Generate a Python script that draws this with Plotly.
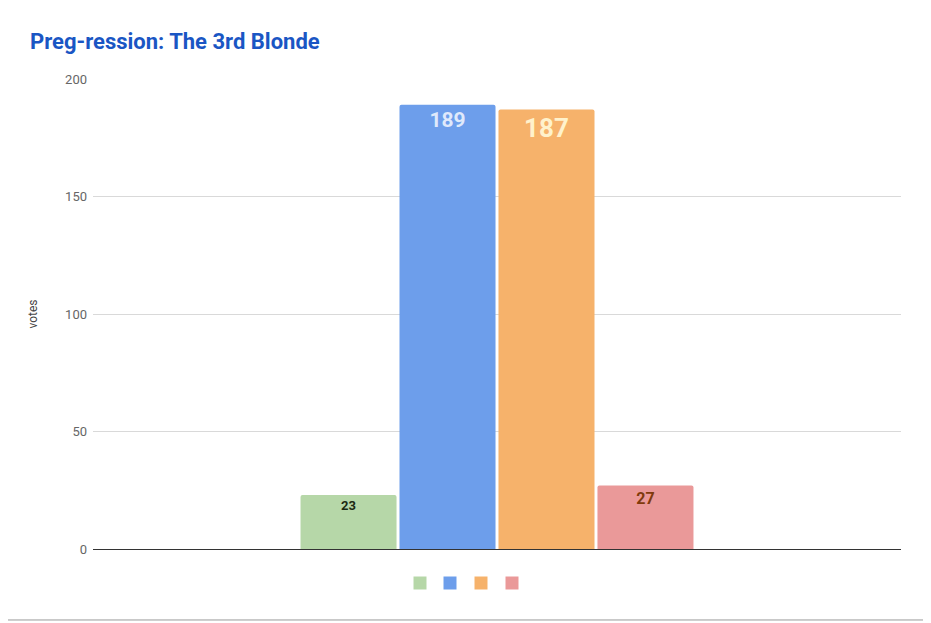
import plotly.graph_objects as go

# Données
CATEGORIE = ['']
NOMS = ['', '', '', '']
VOTES = [23, 189, 187, 27]
COULEURS = ['#b6d7a8', '#6d9eeb', '#f6b26b', '#ea9999']
COULEURS_TEXTE = ['#1c2a12', '#dfe9fb', '#fff2cc', '#7f3a0c']
TAILLES_TEXTE = [13, 21, 26, 16]

TITRE = "Preg-ression: The 3rd Blonde"

# la page a une marge de 8 px : on décale tout
L, R, T, B = 85, 30, 71, 74
W, H = 923, 615
PW, PH = W - L - R, H - T - B

fig = go.Figure()
for i in range(len(VOTES)):
    fig.add_trace(go.Bar(
        x=CATEGORIE, y=[VOTES[i]], name=NOMS[i],
        marker=dict(color=COULEURS[i], line=dict(width=0), cornerradius=2),
        text=[str(VOTES[i])], textposition='inside', insidetextanchor='end',
        textfont=dict(family='Roboto', size=TAILLES_TEXTE[i], color=COULEURS_TEXTE[i], weight='bold'),
        textangle=0, hoverinfo='y'
    ))

fig.update_layout(
    width=W, height=H,
    paper_bgcolor='white', plot_bgcolor='white',
    margin=dict(l=L, r=R, t=T, b=B),
    title=dict(text='<b>' + TITRE + '</b>', x=22/W, xanchor='left', y=1-33/H, yanchor='middle',
               font=dict(family='Roboto', size=22, color='#1a56c4')),
    barmode='group', bargap=0.51, bargroupgap=0.03,
    showlegend=False,
    font=dict(family='Roboto', color='#666666'),
)
fig.update_xaxes(showticklabels=False, showgrid=False, zeroline=False, showline=False)
fig.update_yaxes(range=[0, 200], tickvals=[0, 50, 100, 150, 200], showgrid=True, gridcolor='#d9d9d9',
                 zeroline=True, zerolinecolor='#333333', zerolinewidth=1,
                 tickfont=dict(family='Roboto', size=13, color='#666666'), ticks='', ticklen=0,
                 ticklabelstandoff=5,
                 title=dict(text='votes', font=dict(family='Roboto', size=12, color='#444444'), standoff=24))

# légende : petits carrés sans texte, serrés comme dans l'original
x_leg = [412, 442, 473, 504]
y_leg = 575
for i in range(len(COULEURS)):
    fig.add_shape(type='rect', xref='paper', yref='paper',
                  x0=(x_leg[i] - 6.5 - L) / PW, x1=(x_leg[i] + 6.5 - L) / PW,
                  y0=(H - B - y_leg - 6.5) / PH, y1=(H - B - y_leg + 6.5) / PH,
                  fillcolor=COULEURS[i], line=dict(width=0))

fig.add_shape(type='line', xref='paper', yref='paper', x0=-0.12, x1=1.06, y0=-0.151, y1=-0.151,
              line=dict(color='#9a9a9a', width=1))

fig.write_html("out.html")
